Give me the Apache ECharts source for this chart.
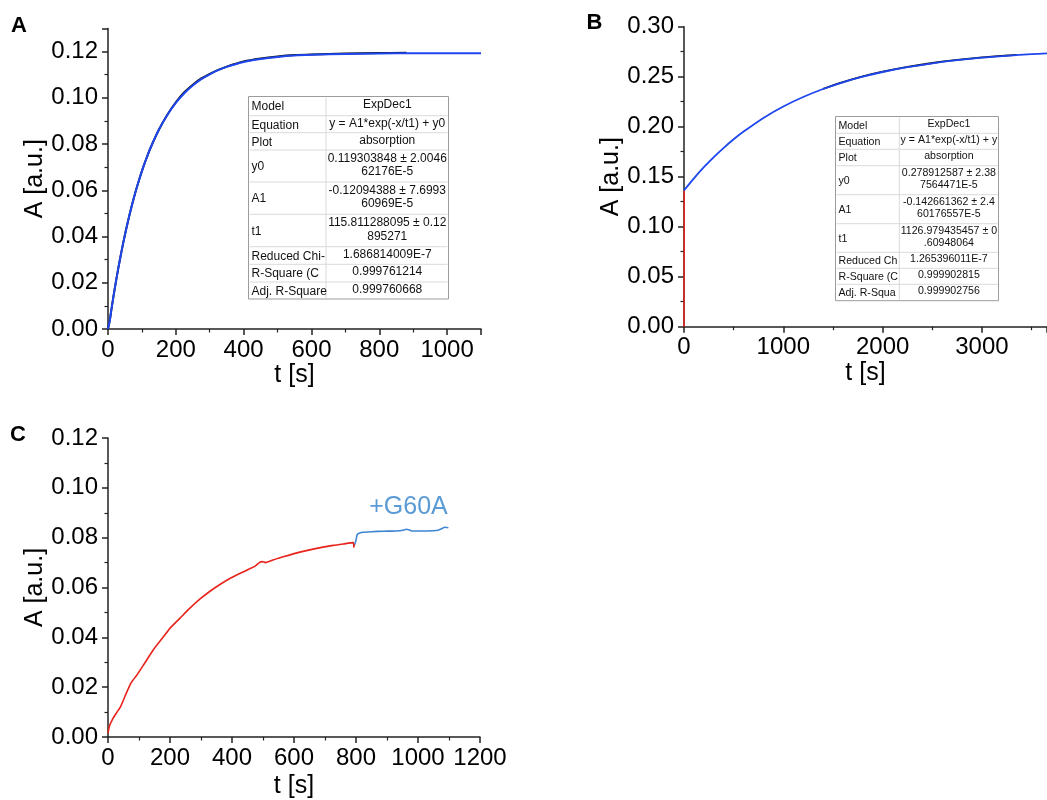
<!DOCTYPE html>
<html><head><meta charset="utf-8">
<script src="https://cdn.jsdelivr.net/npm/echarts@6/dist/echarts.min.js"></script>
<style>html,body{margin:0;padding:0;background:#fff}#c{width:1047px;height:800px}</style>
</head><body><div id="c"></div>
<script>
// ---------- Panel A ----------
const aFitT = [0,5,10,20,30,40,50,60,70,80,90,100,110,125,150,175,200,225,250,275,300,325,350,400,450,500,550,600,700,800,900,1000,1100];
const aFitY = [0.0000,0.0035,0.0084,0.0176,0.0260,0.0337,0.0408,0.0473,0.0532,0.0587,0.0637,0.0683,0.0725,0.0782,0.0862,0.0926,0.0978,0.1020,0.1053,0.1081,0.1102,0.1120,0.1134,0.1155,0.1168,0.1177,0.1183,0.1186,0.1190,0.1192,0.1193,0.1193,0.1193];
const aRawT = [0,5,10,20,30,40,50,60,70,80,90,100,110,125,150,175,200,225,250,275,300,325,350,400,450,500,550,600,700,800,880];
const aRawY = [0.0000,0.0035,0.0084,0.0176,0.0260,0.0337,0.0408,0.0473,0.0532,0.0587,0.0637,0.0683,0.0725,0.0782,0.0862,0.0927,0.0981,0.1024,0.1057,0.1084,0.1104,0.1121,0.1135,0.1157,0.1170,0.1179,0.1185,0.1188,0.1192,0.1194,0.1195];
// ---------- Panel B ----------
const bFitT = [0,100,200,300,400,500,600,800,1000,1200,1400,1600,1800,2000,2250,2500,2750,3000,3250,3500,3655];
const bFitY = [0.1363,0.1484,0.1595,0.1696,0.1789,0.1874,0.1951,0.2088,0.2202,0.2297,0.2377,0.2444,0.2500,0.2547,0.2595,0.2634,0.2665,0.2690,0.2709,0.2725,0.2733];
const bRawT = [1400,1600,1800,2000,2250,2500,2750,3000,3250,3350];
const bRawY = [0.2379,0.2446,0.2503,0.2550,0.2598,0.2637,0.2668,0.2693,0.2712,0.2718];
const bStartT = [0,1,2];
const bStartY = [0.0000,0.0600,0.1363];
// ---------- Panel C ----------
const cRedT = [0,5,14,27,41,57,73,78,94,115,147,180,201,233,265,297,329,361,393,425,457,475,489,497,508,532,565,619,673,726,760,791,793,795];
const cRedY = [0.0015,0.0045,0.0070,0.0096,0.0123,0.0170,0.0214,0.0224,0.0250,0.0290,0.0351,0.0404,0.0438,0.0478,0.0518,0.0554,0.0585,0.0612,0.0636,0.0656,0.0675,0.0686,0.0701,0.0704,0.0700,0.0710,0.0723,0.0742,0.0757,0.0769,0.0775,0.0780,0.0762,0.0775];
const cBlueT = [796,800,804,812,823,850,888,930,952,963,972,979,1010,1049,1065,1075,1087,1098];
const cBlueY = [0.0773,0.0790,0.0813,0.0819,0.0822,0.0824,0.0826,0.0827,0.0830,0.0834,0.0831,0.0827,0.0827,0.0828,0.0830,0.0835,0.0842,0.0840];
const cNote = '+G60A';
// ---------- Tables ----------
const tblLabels = ['Model','Equation','Plot','y0','A1','t1','Reduced Chi-','R-Square (C','Adj. R-Square'];
const tblAValues = ['ExpDec1','y = A1*exp(-x/t1) + y0','absorption','0.119303848 \u00b1 2.0046\n62176E-5','-0.12094388 \u00b1 7.6993\n60969E-5','115.811288095 \u00b1 0.12\n895271','1.686814009E-7','0.999761214','0.999760668'];
const tblBLabels = ['Model','Equation','Plot','y0','A1','t1','Reduced Ch','R-Square (C','Adj. R-Squa'];
const tblBValues = ['ExpDec1','y = A1*exp(-x/t1) + y','absorption','0.278912587 \u00b1 2.38\n7564471E-5','-0.142661362 \u00b1 2.4\n60176557E-5','1126.979435457 \u00b1 0\n.60948064','1.265396011E-7','0.999902815','0.999902756'];
const panelLetters = ['A','B','C'];

const F = '"Liberation Sans", Arial, sans-serif';
const zip = (t, y) => t.map((v, i) => [v, y[i]]);
const AX = '#222';

function xAxis(gi, min, max, interval, nameGap, showMax) {
  return {
    type: 'value', gridIndex: gi, min, max, interval,
    name: 't [s]', nameLocation: 'middle', nameGap,
    nameTextStyle: {fontFamily: F, fontSize: 25, color: '#000'},
    axisLine: {show: true, onZero: false, lineStyle: {color: AX, width: 1.5}},
    axisTick: {show: true, inside: false, length: 6, lineStyle: {color: AX, width: 1.5}},
    minorTick: {show: true, splitNumber: 2, length: 3.5, lineStyle: {color: AX, width: 1.2}},
    axisLabel: {fontFamily: F, fontSize: 24, color: '#000', margin: 9, showMaxLabel: showMax,
                formatter: v => String(v)},
    splitLine: {show: false}, minorSplitLine: {show: false}
  };
}
function yAxis(gi, min, max, interval, showMax) {
  return {
    type: 'value', gridIndex: gi, min, max, interval,
    name: 'A [a.u.]', nameLocation: 'middle', nameGap: 60, nameRotate: 90,
    nameTextStyle: {fontFamily: F, fontSize: 25, color: '#000'},
    axisLine: {show: true, onZero: false, lineStyle: {color: AX, width: 1.5}},
    axisTick: {show: true, inside: false, length: 6, lineStyle: {color: AX, width: 1.5}},
    minorTick: {show: true, splitNumber: 2, length: 3.5, lineStyle: {color: AX, width: 1.2}},
    axisLabel: {fontFamily: F, fontSize: 24, color: '#000', margin: 10, showMaxLabel: showMax,
                formatter: v => v.toFixed(2)},
    splitLine: {show: false}, minorSplitLine: {show: false}
  };
}

function buildTable(x0, x1, x2, rowsY, labels, values, fs, lh) {
  const els = [];
  const top = rowsY[0], bot = rowsY[rowsY.length - 1];
  els.push({type: 'rect', z: 100, shape: {x: x0, y: top, width: x2 - x0, height: bot - top},
            style: {fill: '#fff', stroke: '#9c9c9c', lineWidth: 1}});
  for (let i = 1; i < rowsY.length - 1; i++) {
    els.push({type: 'line', z: 101, shape: {x1: x0 + 1, y1: rowsY[i], x2: x2 - 1, y2: rowsY[i]},
              style: {stroke: '#dadada', lineWidth: 1}});
  }
  els.push({type: 'line', z: 101, shape: {x1: x1, y1: top + 1, x2: x1, y2: bot - 1},
            style: {stroke: '#dadada', lineWidth: 1}});
  labels.forEach((lab, i) => {
    const yc = (rowsY[i] + rowsY[i + 1]) / 2;
    els.push({type: 'text', z: 102, style: {x: x0 + 3, y: yc + 1, text: lab, fontFamily: F, fontSize: fs,
              fill: '#111', align: 'left', verticalAlign: 'middle', textAlign: 'left', textVerticalAlign: 'middle'}});
    els.push({type: 'text', z: 102, style: {x: (x1 + x2) / 2, y: yc - 1, text: values[i], fontFamily: F, fontSize: fs,
              lineHeight: lh, fill: '#111', align: 'center', verticalAlign: 'middle', textAlign: 'center', textVerticalAlign: 'middle'}});
  });
  return els;
}

const letterStyle = (x, y, t) => ({type: 'text', z: 110, style: {x, y, text: t, fontFamily: F, fontWeight: 'bold', fontSize: 22,
  fill: '#000', align: 'center', verticalAlign: 'middle', textAlign: 'center', textVerticalAlign: 'middle'}});

const graphics = []
  .concat(buildTable(248.5, 326, 448.5, [96.5,115.7,132.7,150,182,214.3,246.7,264.3,282,299], tblLabels, tblAValues, 12, 13.5))
  .concat(buildTable(835.5, 899.3, 998.5, [116.5,133.3,149.3,165.7,194.7,223.7,252.3,268.3,284.3,300.7], tblBLabels, tblBValues, 10.6, 12))
  .concat([
    letterStyle(19, 26, panelLetters[0]),
    letterStyle(594.5, 23, panelLetters[1]),
    letterStyle(18, 435, panelLetters[2]),
    {type: 'text', z: 110, style: {x: 408.5, y: 507, text: cNote, fontFamily: F, fontSize: 25, fill: '#5b9bd5', align: 'center', verticalAlign: 'middle', textAlign: 'center', textVerticalAlign: 'middle'}}
  ]);

const BLUE = '#1e46ee', RED = '#e8231c', CBLUE = '#3d85d1';
const chart = echarts.init(document.getElementById('c'), null, {renderer: 'canvas'});
chart.setOption({
  animation: false,
  backgroundColor: '#fff',
  grid: [
    {left: 108, right: 566, top: 28.5, bottom: 471, containLabel: false},
    {left: 684, right: 0, top: 26.7, bottom: 473.3, containLabel: false},
    {left: 108, right: 567, top: 438, bottom: 62.3, containLabel: false}
  ],
  xAxis: [
    xAxis(0, 0, 1100, 200, 29, false),
    xAxis(1, 0, 3655, 1000, 32, false),
    xAxis(2, 0, 1200, 200, 37, true)
  ],
  yAxis: [
    yAxis(0, 0, 0.13, 0.02, false),
    yAxis(1, 0, 0.30, 0.05, true),
    yAxis(2, 0, 0.12, 0.02, true)
  ],
  series: [
    {type: 'line', xAxisIndex: 0, yAxisIndex: 0, data: zip(aRawT, aRawY), showSymbol: false, smooth: 0.3,
     lineStyle: {color: '#111', width: 2}, z: 2},
    {type: 'line', xAxisIndex: 0, yAxisIndex: 0, data: zip(aFitT, aFitY), showSymbol: false, smooth: 0.3,
     lineStyle: {color: BLUE, width: 2}, z: 3},
    {type: 'line', xAxisIndex: 1, yAxisIndex: 1, data: zip(bStartT, bStartY), showSymbol: false,
     lineStyle: {color: RED, width: 1.5}, z: 2},
    {type: 'line', xAxisIndex: 1, yAxisIndex: 1, data: zip(bRawT, bRawY), showSymbol: false, smooth: 0.3,
     lineStyle: {color: '#111', width: 1.8}, z: 2},
    {type: 'line', xAxisIndex: 1, yAxisIndex: 1, data: zip(bFitT, bFitY), showSymbol: false, smooth: 0.3,
     lineStyle: {color: BLUE, width: 1.8}, z: 3},
    {type: 'line', xAxisIndex: 2, yAxisIndex: 2, data: zip(cRedT, cRedY), showSymbol: false,
     smooth: 0.2,
     lineStyle: {color: RED, width: 1.6}, z: 2},
    {type: 'line', xAxisIndex: 2, yAxisIndex: 2, data: zip(cBlueT, cBlueY), showSymbol: false,
     smooth: 0.2,
     lineStyle: {color: CBLUE, width: 1.6}, z: 2}
  ],
  graphic: graphics
});
</script>
</body></html>
